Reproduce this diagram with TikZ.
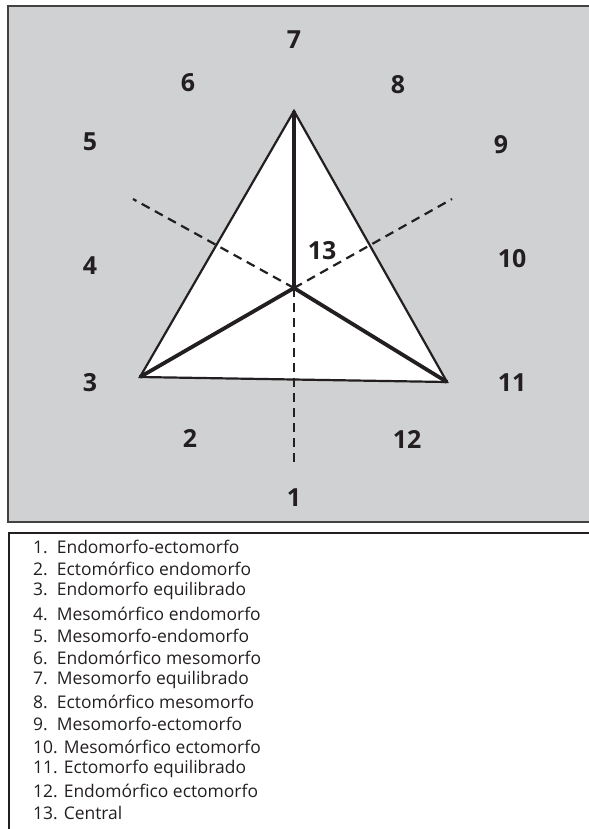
\documentclass[tikz,border=0pt]{standalone}
\usepackage{fontspec}
\setmainfont{Open Sans}
\definecolor{bggray}{RGB}{208,209,211}
\definecolor{ink}{RGB}{35,31,32}
\begin{document}
\begin{tikzpicture}[x=1bp,y=-1bp,
  lbl/.style={font=\fontsize{25}{28}\selectfont\bfseries, text=ink, inner sep=0pt},
  leg/.style={font=\fontsize{17.5}{20}\selectfont, text=ink, anchor=west, inner sep=0pt},
  edge/.style={draw=ink, line width=2.2bp, line join=miter},
  thick line/.style={draw=ink, line width=3.8bp, line cap=butt},
  dashline/.style={draw=ink, line width=2.2bp, dash pattern=on 9bp off 6bp}]
\useasboundingbox (0,0) rectangle (589,829);
% grey panel
\draw[fill=bggray, draw=ink!85, line width=1.4bp] (8,6) rectangle (595,522);
% legend frame
\draw[draw=ink, line width=2.4bp] (595,533) -- (9,533) -- (9,835);
% triangle
\coordinate (A) at (294,111);
\coordinate (L) at (140,377);
\coordinate (R) at (447,382);
\coordinate (C) at (294,288);
\coordinate (dUL) at (133,199);
\coordinate (dUR) at (452,199);
\coordinate (dD) at (294,464);
\fill[white] (A) -- (L) -- (R) -- cycle;
\draw[dashline] (C) -- (dUL);
\draw[dashline] (C) -- (dUR);
\draw[dashline] (C) -- (dD);
\draw[edge] (A) -- (L) -- (R) -- cycle;
\draw[thick line] (A) -- (C);
\draw[thick line] (L) -- (C) -- (R);
% labels
\node[lbl] (n7) at (294,40) {7};
\node[lbl] (n6) at (188,83) {6};
\node[lbl] (n8) at (398,85) {8};
\node[lbl] (n5) at (90,142) {5};
\node[lbl] (n9) at (501,145) {9};
\node[lbl] (n4) at (90,266) {4};
\node[lbl] (n10) at (512,259) {10};
\node[lbl] (n13) at (322,251) {13};
\node[lbl] (n3) at (90,383) {3};
\node[lbl] (n11) at (512,383) {11};
\node[lbl] (n2) at (190,438) {2};
\node[lbl] (n12) at (407,439) {12};
\node[lbl] (n1) at (294,498) {1};
% legend
\node[leg] (t1) at (33,547) {1.\ \ Endomorfo-ectomorfo};
\node[leg] (t2) at (33,569.17) {2.\ \ Ectomórfico endomorfo};
\node[leg] (t3) at (33,591.33) {3.\ \ Endomorfo equilibrado};
\node[leg] (t4) at (33,613.5) {4.\ \ Mesomórfico endomorfo};
\node[leg] (t5) at (33,635.67) {5.\ \ Mesomorfo-endomorfo};
\node[leg] (t6) at (33,657.83) {6.\ \ Endomórfico mesomorfo};
\node[leg] (t7) at (33,680) {7.\ \ Mesomorfo equilibrado};
\node[leg] (t8) at (33,702.17) {8.\ \ Ectomórfico mesomorfo};
\node[leg] (t9) at (33,724.33) {9.\ \ Mesomorfo-ectomorfo};
\node[leg] (t10) at (33,746.5) {10. Mesomórfico ectomorfo};
\node[leg] (t11) at (33,768.67) {11. Ectomorfo equilibrado};
\node[leg] (t12) at (33,790.83) {12. Endomórfico ectomorfo};
\node[leg] (t13) at (33,813) {13. Central};
\end{tikzpicture}
\end{document}
